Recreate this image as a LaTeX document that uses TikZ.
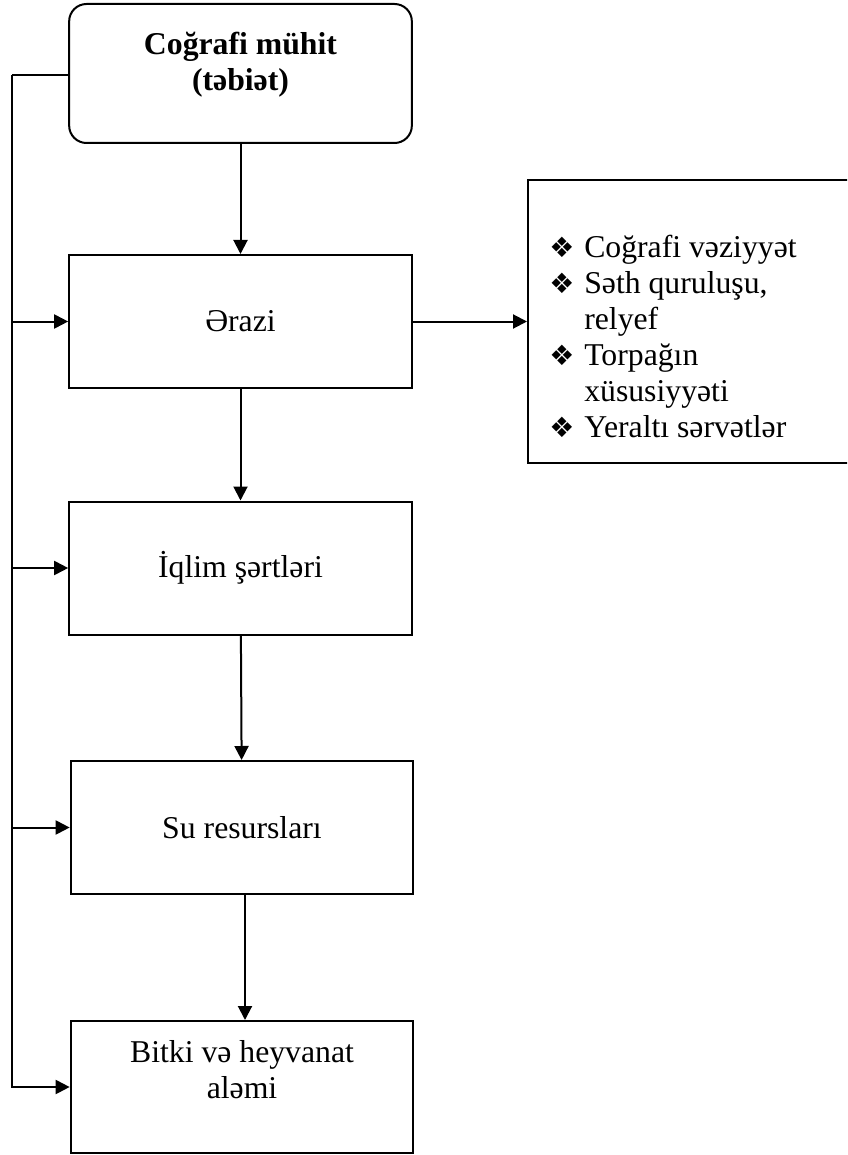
\documentclass[tikz,border=0pt]{standalone}
\usepackage{fontspec}
\setmainfont{Liberation Serif}
\newfontfamily\dingfont{DejaVu Sans}
\usetikzlibrary{positioning,arrows.meta}
\newcommand{\bulitem}{\makebox[26.25pt][l]{\dingfont\fontsize{21}{21}\selectfont ❖}}
\newcommand{\bulgap}{\hspace*{26.25pt}}

\begin{document}
\begin{tikzpicture}[x=0.75pt, y=-0.75pt, >={Triangle[length=10.5pt,width=10.5pt]},
      font=\fontsize{23.8}{27}\selectfont,
      stage/.style={draw, line width=1.5pt, minimum width=257pt, minimum height=99.75pt, align=center, inner sep=0pt},
      flow/.style={->, line width=1.5pt}]
    \clip (0,0) rectangle (847,1155);
    % ---- source box
    \node[stage, rounded corners=13pt, minimum height=104.25pt, font=\fontsize{23.8}{27}\selectfont\bfseries] (env) at (240.5,73.5) {Coğrafi mühit\\(təbiət)\\[-8pt]\mbox{}};
    % ---- chain of factors
    \node[stage] (erazi) at (240.5,321.5) {Ərazi};
    \node[stage] (iqlim) at (240.5,568) {İqlim şərtləri};
    \node[stage] (su) at (242,827.5) {Su resursları};
    \node[stage, minimum height=99pt] (bitki) at (242,1087) {Bitki və heyvanat\\aləmi\\\mbox{}};
    \draw[flow] (env) -- (erazi);
    \draw[flow] (erazi) -- (iqlim);
    \draw[flow] (iqlim) -- (su);
    \draw[flow] ([xshift=2.25pt]su.south) -- ([xshift=2.25pt]bitki.north);
    % ---- side bus
    \coordinate (bus) at (12,75);
    \draw[line width=1.5pt] (env.west |- bus) -- (bus);
    \draw[flow] (bus) |- (bitki.west);
    \foreach \n in {erazi,iqlim,su} { \draw[flow] (bus |- \n.west) -- (\n.west); }
    % ---- details of the territory
    \node[draw, line width=1.5pt, anchor=north west, minimum width=300pt, minimum height=212pt] (detail) at (527,179) {};
    \node[anchor=base west, align=left, inner sep=0pt] (detailtext) at (549,437.5) {\bulitem Coğrafi vəziyyət\\ \bulitem Səth quruluşu,\\ \bulgap relyef\\ \bulitem Torpağın\\ \bulgap xüsusiyyəti\\ \bulitem Yeraltı sərvətlər};
    \draw[flow] (erazi.east) -- (erazi.east -| detail.west);
\end{tikzpicture}
\end{document}
